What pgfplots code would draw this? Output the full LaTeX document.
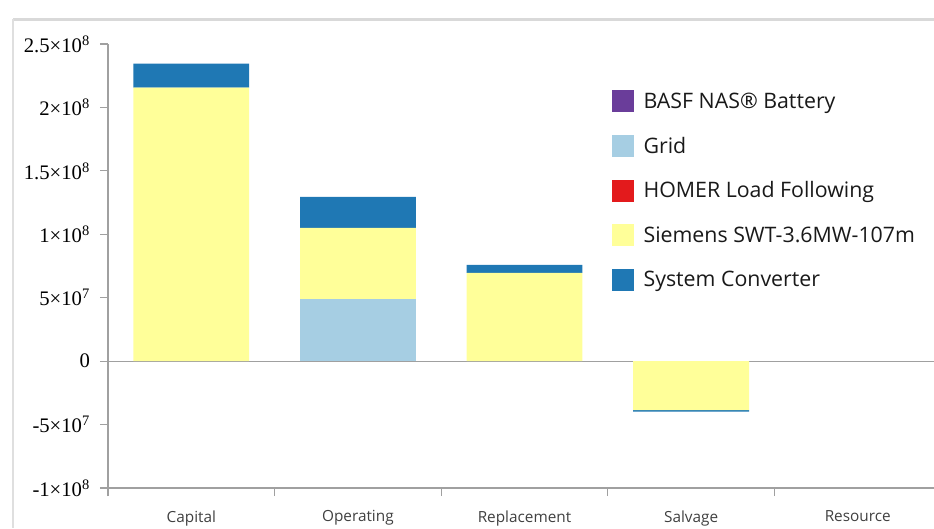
\documentclass[border=0pt]{standalone}
\usepackage{pgfplots}
\pgfplotsset{compat=1.18}
\usepackage{fontspec}
\setmainfont{Open Sans}
\newfontfamily\tnr{Liberation Serif}

\definecolor{battery}{HTML}{6A3D9A}
\definecolor{grid}{HTML}{A6CEE3}
\definecolor{homer}{HTML}{E31A1C}
\definecolor{siemens}{HTML}{FFFF99}
\definecolor{converter}{HTML}{1F78B4}
\definecolor{axisgray}{HTML}{A0A0A0}

% Cost breakdown by category (Capital, Operating, Replacement, Salvage, Resource)
\pgfplotstableread{
x battery grid homer siemens converter
0 0 0        0 2.156e8  1.90e7
1 0 4.90e7   0 5.60e7   2.45e7
2 0 0        0 6.95e7   6.3e6
3 0 0        0 -3.87e7  -1.0e6
4 0 0        0 0        0
}\costs

\begin{document}
\begin{tikzpicture}[x=1pt,y=1pt]
  \path[use as bounding box] (0,0) rectangle (700.5,396);
  % panel edge
  \draw[gray!30, line width=2.5pt] (9.75,381.5) -- (700.5,381.5);
  \draw[gray!25, line width=1.2pt] (9.75,381.5) -- (9.75,0);
  \begin{axis}[
    at={(81pt,30pt)}, anchor=south west,
    scale only axis, width=624.75pt, height=333pt,
    ybar stacked, bar width=0.695,
    xmin=-0.5, xmax=4.5, ymin=-1e8, ymax=2.5e8,
    axis lines*=left,
    axis line style={axisgray, line width=0.9pt, -},
    y axis line style={shorten <=-6pt},
    tick align=outside,
    major tick length=6pt,
    tick style={axisgray, line width=0.9pt},
    xtick={0,1,2,3,4},
    xticklabels={Capital,Operating,Replacement,Salvage,Resource},
    major x tick style={draw=none},
    minor xtick={-0.5,0.5,1.5,2.5,3.5},
    minor tick length=6pt,
    minor x tick style={axisgray, line width=0.9pt},
    xticklabel style={font=\fontsize{11.5}{13}\selectfont, text=black!75, yshift=-7.5pt},
    ytick={-1e8,-5e7,0,5e7,1e8,1.5e8,2e8,2.5e8},
    yticklabels={
      {-1\texttimes10\textsuperscript{8}},
      {-5\texttimes10\textsuperscript{7}},
      {0},
      {5\texttimes10\textsuperscript{7}},
      {1\texttimes10\textsuperscript{8}},
      {1.5\texttimes10\textsuperscript{8}},
      {2\texttimes10\textsuperscript{8}},
      {2.5\texttimes10\textsuperscript{8}}},
    yticklabel style={font=\tnr\fontsize{15.5}{17}\selectfont, text=black, xshift=-4pt},
    scaled y ticks=false,
    clip=false,
    legend style={at={(rel axis cs:0.605,0.896)}, anchor=north west,
      draw=none, fill=none, inner sep=0pt,
      font=\fontsize{16}{18}\selectfont, text=black!90,
      row sep=17pt,
      nodes={inner sep=0pt, anchor=west}},
    legend cell align=left,
    /tikz/every odd column/.append style={column sep=7pt},
    legend image code/.code={\fill[#1, draw=none] (0pt,-8.25pt) rectangle (16.5pt,8.25pt);},
  ]
    \addplot[fill=battery, draw=none] table[x=x, y=battery] {\costs};
    \addlegendentry{BASF NAS\textregistered\ Battery}
    \addplot[fill=grid, draw=none] table[x=x, y=grid] {\costs};
    \addlegendentry{Grid}
    \addplot[fill=homer, draw=none] table[x=x, y=homer] {\costs};
    \addlegendentry{HOMER Load Following}
    \addplot[fill=siemens, draw=none] table[x=x, y=siemens] {\costs};
    \addlegendentry{Siemens SWT-3.6MW-107m}
    \addplot[fill=converter, draw=none] table[x=x, y=converter] {\costs};
    \addlegendentry{System Converter}
    % zero baseline
    \draw[axisgray, line width=0.9pt] (axis cs:-0.5,0) -- (axis cs:4.5,0);
  \end{axis}
\end{tikzpicture}
\end{document}
